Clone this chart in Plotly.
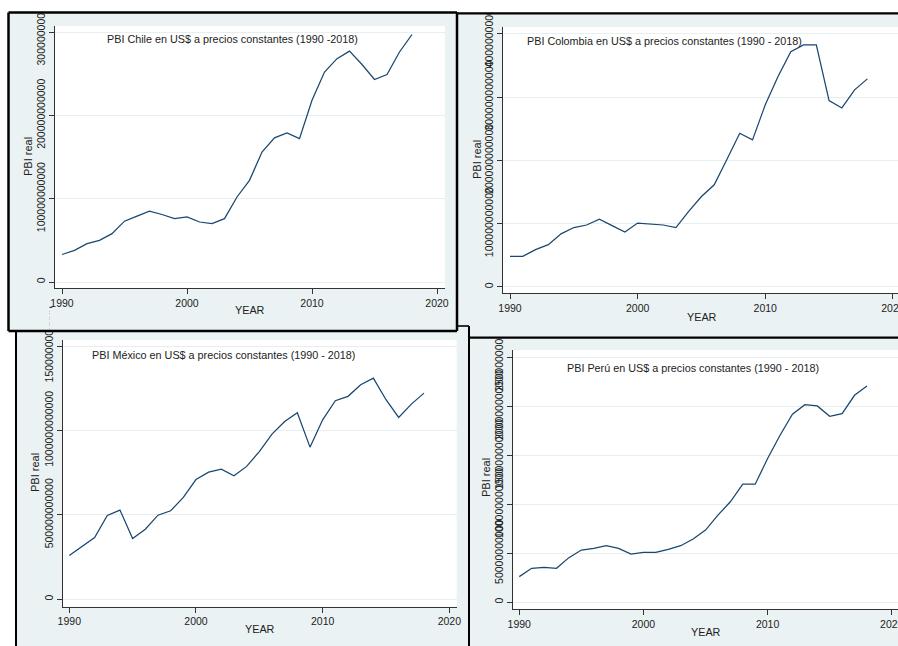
import plotly.graph_objects as go

W, H = 898, 646

years = [1990, 1991, 1992, 1993, 1994, 1995, 1996, 1997, 1998, 1999,
         2000, 2001, 2002, 2003, 2004, 2005, 2006, 2007, 2008, 2009,
         2010, 2011, 2012, 2013, 2014, 2015, 2016, 2017, 2018]

# GDP values, billions of constant US$
chile = [33, 38, 46, 50, 58, 73, 79, 85, 81, 76,
         78, 72, 70, 76, 102, 122, 156, 173, 179, 172,
         218, 252, 268, 277, 261, 243, 249, 276, 297]
colombia = [48.4, 48.4, 59, 67, 84, 94, 98, 107, 97, 87,
            101, 99.5, 98, 94, 119.5, 143, 161.6, 202, 243, 232.6,
            288, 332.6, 372, 382.6, 382.6, 294.7, 283, 311.6, 329]
mexico = [259, 312, 366, 496, 528, 360, 415, 498, 524, 603,
          709, 753, 771, 731, 787, 875, 978, 1053, 1105, 901,
          1063, 1176, 1202, 1271, 1310, 1182, 1077, 1156, 1221]
peru = [26.2, 34.7, 35.7, 34.7, 45.6, 53.4, 55.1, 57.8, 55.1, 49.3,
        51, 51, 54.1, 57.8, 64.6, 73.8, 89.1, 102.7, 120.7, 120.7,
        146.9, 170.7, 192.2, 202, 200.7, 190.1, 192.9, 211.6, 221.1]

x_tickvals = [1990, 2000, 2010, 2020]
x_ticktext = ["1990", "2000", "2010", "2020"]

chile_tickvals = [0, 100, 200, 300]
chile_ticktext = ["0", "100000000000", "200000000000", "300000000000"]
colombia_tickvals = [0, 100, 200, 300, 400]
colombia_ticktext = ["0", "100000000000", "200000000000", "300000000000", "400000000000"]
mexico_tickvals = [0, 500, 1000, 1500]
mexico_ticktext = ["0", "500000000000", "1000000000000", "1500000000000"]
peru_tickvals = [0, 50, 100, 150, 200, 250]
peru_ticktext = ["0", "50000000000", "100000000000", "150000000000", "200000000000", "250000000000"]

titles = ["PBI Chile en US$ a precios constantes (1990 -2018)",
          "PBI Colombia en US$ a precios constantes (1990 - 2018)",
          "PBI México en US$ a precios constantes (1990 - 2018)",
          "PBI Perú en US$ a precios constantes (1990 - 2018)"]

BG = "#EAF2F3"
LINE = "#1a476f"
TXT = "#222222"
FONT = "Liberation Sans, Arial, sans-serif"


def X(px):
    return px / W


def Y(py):
    return 1 - py / H


fig = go.Figure()

panels = [
    dict(y=chile, xd=(55, 445), yd=(26, 288), xr=[1989.44, 2020.64], yr=[-7.2, 307.2],
         tv=chile_tickvals, tt=chile_ticktext),
    dict(y=colombia, xd=(503, 898), yd=(27, 293), xr=[1989.45, 2020.4], yr=[-9.5, 411],
         tv=colombia_tickvals, tt=colombia_ticktext),
    dict(y=mexico, xd=(62.7, 456.7), yd=(340, 606.7), xr=[1989.48, 2020.58], yr=[-44, 1535.6],
         tv=mexico_tickvals, tt=mexico_ticktext),
    dict(y=peru, xd=(513.3, 898), yd=(350, 609), xr=[1989.52, 2020.5], yr=[-6.9, 257.9],
         tv=peru_tickvals, tt=peru_ticktext),
]

layout_axes = {}
for i, p in enumerate(panels):
    n = "" if i == 0 else str(i + 1)
    fig.add_trace(go.Scatter(x=years, y=p["y"], mode="lines",
                             line=dict(color=LINE, width=1.25),
                             xaxis="x" + n, yaxis="y" + n, showlegend=False,
                             hoverinfo="skip"))
    layout_axes["xaxis" + n] = dict(
        domain=[X(p["xd"][0]), X(p["xd"][1])], range=p["xr"], anchor="y" + n,
        tickvals=x_tickvals, ticktext=x_ticktext, ticks="outside", ticklen=5,
        tickcolor="#333", showline=True, linecolor="#333", linewidth=1,
        showgrid=False, zeroline=False, ticklabeloverflow="allow", automargin=False,
        tickfont=dict(size=10.5, color=TXT, family=FONT))
    layout_axes["yaxis" + n] = dict(
        domain=[Y(p["yd"][1]), Y(p["yd"][0])], range=p["yr"], anchor="x" + n,
        tickvals=p["tv"], ticktext=p["tt"], tickangle=-90, ticks="outside", ticklen=5,
        tickcolor="#333", showline=True, linecolor="#333", linewidth=1,
        showgrid=True, gridcolor="#E6EEF0", gridwidth=1, zeroline=False,
        ticklabeloverflow="allow", automargin=False,
        tickfont=dict(size=10.5, color=TXT, family=FONT))

shapes = []
shapes.append(dict(type="rect", xref="paper", yref="paper", layer="below",
                   x0=X(457), x1=X(905), y0=Y(338), y1=Y(13),
                   fillcolor=BG, line=dict(width=0)))
shapes.append(dict(type="rect", xref="paper", yref="paper", layer="below",
                   x0=X(16), x1=X(469), y0=Y(660), y1=Y(326),
                   fillcolor=BG, line=dict(width=0)))
shapes.append(dict(type="rect", xref="paper", yref="paper", layer="below",
                   x0=X(8.5), x1=X(457), y0=Y(331), y1=Y(12.5),
                   fillcolor=BG, line=dict(width=0)))
shapes.append(dict(type="rect", xref="paper", yref="paper", layer="below",
                   x0=X(469), x1=X(905), y0=Y(660), y1=Y(337.7),
                   fillcolor=BG, line=dict(width=0)))
for p in panels:
    shapes.append(dict(type="rect", xref="paper", yref="paper", layer="below",
                       x0=X(p["xd"][0]), x1=X(p["xd"][1]) if p["xd"][1] < 898 else X(905),
                       y0=Y(p["yd"][1]), y1=Y(p["yd"][0]),
                       fillcolor="white", line=dict(width=0)))

# cover-ups mimicking the cropping of the pasted panels
shapes.append(dict(type="rect", xref="paper", yref="paper", layer="above",
                   x0=X(-5), x1=X(905), y0=Y(12.5), y1=Y(-5),
                   fillcolor="white", line=dict(width=0)))
shapes.append(dict(type="rect", xref="paper", yref="paper", layer="above",
                   x0=X(10), x1=X(49.5), y0=Y(331), y1=Y(303),
                   fillcolor=BG, line=dict(width=0)))
shapes.append(dict(type="rect", xref="paper", yref="paper", layer="above",
                   x0=X(49.5), x1=X(60), y0=Y(331), y1=Y(308),
                   fillcolor=BG, line=dict(width=0)))
shapes.append(dict(type="rect", xref="paper", yref="paper", layer="above",
                   x0=X(472), x1=X(511), y0=Y(337.7), y1=Y(316),
                   fillcolor=BG, line=dict(width=0)))


def seg(x0, y0, x1, y1, w=2.2):
    return dict(type="line", xref="paper", yref="paper", layer="above",
                x0=X(x0), y0=Y(y0), x1=X(x1), y1=Y(y1),
                line=dict(color="black", width=w))


shapes += [
    seg(457, 13.3, 905, 13.3),
    seg(457, 326, 469, 326, 1.6),
    seg(469, 326, 469, 660, 2.0),
    seg(16, 331, 16, 660, 2.0),
    seg(469, 337.7, 905, 337.7),
    seg(8.5, 12.5, 457, 12.5, 2.5),
    seg(8.5, 12.5, 8.5, 331, 2.5),
    seg(457, 12.5, 457, 331, 2.5),
    seg(8.5, 331, 457, 331, 2.5),
]

annotations = []
title_pos = [(232, 39), (664, 41), (223, 355), (693, 368)]
ylab_pos = [(28, 157), (477, 160), (35, 473), (486, 478)]
xlab_pos = [(250, 310), (702, 317), (260, 629), (706, 632)]
for t, (tx, ty) in zip(titles, title_pos):
    annotations.append(dict(text=t, x=X(tx), y=Y(ty), xref="paper", yref="paper",
                            showarrow=False, xanchor="center", yanchor="middle",
                            font=dict(size=10.8, color=TXT, family=FONT)))
for (lx, ly) in ylab_pos:
    annotations.append(dict(text="PBI real", x=X(lx), y=Y(ly), xref="paper", yref="paper",
                            showarrow=False, textangle=-90, xanchor="center", yanchor="middle",
                            font=dict(size=11, color=TXT, family=FONT)))
for (lx, ly) in xlab_pos:
    annotations.append(dict(text="YEAR", x=X(lx), y=Y(ly), xref="paper", yref="paper",
                            showarrow=False, xanchor="center", yanchor="middle",
                            font=dict(size=10.8, color=TXT, family=FONT)))

fig.update_layout(width=W, height=H, margin=dict(l=0, r=0, t=0, b=0, autoexpand=False),
                  paper_bgcolor="white", plot_bgcolor="rgba(0,0,0,0)",
                  shapes=shapes, annotations=annotations,
                  font=dict(family=FONT), **layout_axes)

fig.write_html("out.html")
